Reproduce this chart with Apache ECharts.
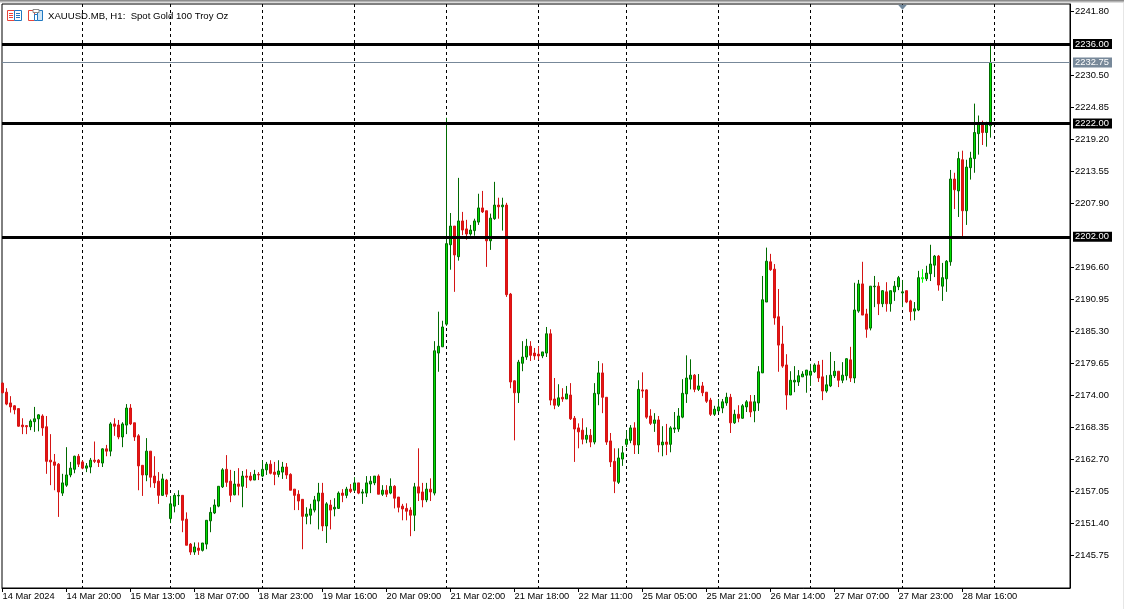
<!DOCTYPE html>
<html><head><meta charset="utf-8">
<style>html,body{margin:0;padding:0;background:#fff}#c{width:1124px;height:609px}</style>
<script src="https://cdn.jsdelivr.net/npm/echarts@6/dist/echarts.min.js"></script>
</head><body><div id="c"></div>
<script>
const opens=[2176.2,2174.6,2172.7,2172.2,2171.7,2168.8,2168.7,2168.5,2169.4,2169.9,2170.4,2168.5,2162.6,2162.3,2161.9,2156.8,2158.2,2160.0,2161.0,2163.3,2162.3,2161.2,2161.4,2162.6,2162.6,2162.1,2164.6,2164.2,2169.0,2168.8,2166.7,2168.8,2171.8,2169.2,2166.9,2161.7,2160.0,2164.2,2159.8,2158.9,2156.4,2159.1,2152.3,2154.5,2156.3,2156.4,2152.2,2147.8,2146.4,2147.1,2146.7,2147.8,2151.9,2153.3,2154.5,2157.9,
2161.0,2158.9,2156.5,2158.4,2158.0,2159.8,2159.8,2159.1,2160.1,2159.8,2160.9,2161.9,2160.5,2160.1,2160.5,2161.4,2160.1,2157.5,2156.6,2155.7,2152.7,2152.9,2153.8,2155.4,2156.8,2151.0,2154.7,2154.0,2154.1,2156.8,2156.4,2157.5,2157.3,2158.6,2156.8,2156.8,2158.4,2158.6,2159.8,2156.6,2157.3,2156.8,2158.0,2156.1,2154.5,2154.1,2153.8,2152.9,2157.9,2157.0,2155.6,2157.5,
2156.8,2181.5,2182.6,2186.6,2200.6,2203.9,2198.5,2204.8,2203.4,2202.5,2203.1,2204.6,2207.1,2206.6,2201.3,2205.2,2207.6,2207.3,2207.6,
2191.9,2176.6,2174.5,2179.7,2180.8,2182.7,2181.5,2181.3,2181.0,2181.5,2184.9,2173.4,2172.3,2173.7,2173.4,2174.1,2170.0,2168.3,2167.9,2166.3,2167.0,2165.8,2174.3,2178.0,2173.7,2166.0,2162.4,2158.7,2162.8,2165.4,2166.1,2168.3,2165.3,2175.0,2175.0,2170.4,2169.1,2169.7,2165.3,2165.8,2165.4,2168.1,2168.1,2170.2,2174.3,2176.9,2177.6,2175.1,
2175.7,2174.6,2173.2,2170.7,2171.3,2171.8,2172.7,2173.7,2169.2,2170.7,2170.0,2172.0,2172.9,2171.3,2172.7,2178.0,2190.5,2197.6,2196.3,2187.9,2183.1,2179.4,2174.1,2176.4,2176.4,2177.3,2177.6,2177.6,2178.2,2179.4,2177.3,2174.8,2175.7,2177.5,2178.3,2176.7,2177.5,2180.3,2177.1,2188.9,2193.7,
2188.4,2185.9,2193.2,2193.3,2190.2,2192.3,2190.2,2192.3,2193.2,2192.1,2192.5,2190.7,2188.9,2189.1,2194.6,2194.6,2195.5,2197.0,2198.6,2193.3,2194.6,2197.6,2212.2,2210.1,2215.6,2206.6,2214.2,2215.8,2220.2,2221.9,2220.4,2221.6];
const closes=[2174.5,2172.5,2172.0,2171.5,2168.6,2168.5,2168.5,2169.5,2169.9,2170.6,2168.3,2162.4,2162.3,2161.7,2157.0,2158.6,2160.0,2161.2,2163.3,2161.9,2161.2,2161.6,2162.6,2162.4,2162.2,2164.6,2164.2,2169.0,2168.6,2166.7,2169.0,2171.8,2169.0,2166.7,2161.6,2160.0,2164.2,2159.6,2158.6,2156.4,2159.3,2156.6,2154.9,2156.4,2156.4,2152.0,2147.6,2146.4,2147.3,2146.7,2148.0,2152.0,2153.4,2154.7,2158.0,2160.9,
2158.7,2156.4,2158.4,2158.0,2159.8,2159.6,2159.1,2160.1,2160.0,2161.0,2161.9,2160.3,2160.1,2160.7,2161.4,2160.0,2157.3,2156.4,2155.4,2152.7,2153.1,2154.0,2155.6,2156.8,2151.0,2154.9,2153.8,2154.3,2156.8,2156.4,2157.5,2157.1,2158.6,2156.8,2157.0,2158.6,2158.9,2159.8,2156.6,2157.3,2156.6,2158.0,2155.9,2154.3,2154.0,2153.6,2152.9,2157.9,2156.8,2155.6,2157.5,2157.0,
2181.9,2182.7,2186.1,2200.8,2203.9,2198.8,2204.8,2203.2,2202.5,2203.2,2204.8,2207.1,2206.4,2201.3,2205.3,2207.6,2207.3,2207.6,2191.8,
2176.4,2174.5,2179.9,2180.8,2182.7,2181.1,2181.0,2181.0,2181.7,2184.9,2173.2,2172.3,2173.6,2173.4,2174.3,2169.9,2168.1,2167.6,2166.3,2167.0,2165.8,2174.4,2178.0,2173.7,2165.8,2162.3,2158.9,2163.0,2163.9,2166.3,2168.3,2165.3,2175.1,2174.8,2170.2,2169.1,2169.7,2165.3,2165.8,2165.4,2168.3,2168.3,2170.4,2174.4,2177.1,2177.6,2175.1,2175.7,
2174.5,2173.0,2170.7,2171.6,2172.0,2172.9,2173.7,2169.2,2170.7,2170.0,2172.2,2172.9,2171.1,2172.9,2178.2,2190.9,2197.7,2196.2,2187.7,2182.9,2179.2,2174.1,2176.7,2176.7,2177.5,2177.8,2178.5,2178.3,2179.4,2177.1,2174.8,2175.9,2177.6,2178.3,2176.7,2177.6,2180.5,2177.1,2189.1,2193.7,2188.2,
2185.7,2193.3,2193.3,2190.2,2192.5,2190.2,2192.5,2193.3,2194.8,2192.3,2190.5,2188.8,2189.3,2194.8,2194.8,2195.6,2197.2,2198.6,2193.5,2194.8,2197.7,2212.2,2210.3,2215.8,2206.6,2214.3,2215.9,2220.4,2221.9,2220.4,2221.8,2232.75];
const lows=[2174.4,2172.3,2171.0,2170.7,2168.5,2167.2,2167.2,2167.9,2167.6,2167.7,2166.9,2160.2,2158.2,2157.3,2152.6,2156.3,2157.9,2159.6,2160.3,2161.4,2161.0,2160.5,2160.3,2162.1,2161.4,2161.4,2163.3,2163.3,2166.9,2166.3,2164.9,2167.2,2168.8,2166.0,2157.3,2156.3,2158.9,2157.8,2157.7,2154.9,2156.3,2156.1,2151.5,2153.4,2154.7,2149.9,2147.6,2145.9,2145.9,2145.9,2146.5,2146.9,2149.9,2153.1,2154.3,2157.7,
2157.9,2155.2,2156.4,2156.4,2154.3,2157.7,2158.9,2159.1,2159.1,2159.6,2160.0,2160.1,2158.2,2159.6,2159.3,2159.3,2157.3,2153.8,2153.8,2146.9,2151.3,2151.3,2153.4,2150.4,2150.1,2148.0,2150.4,2152.7,2154.0,2155.2,2155.9,2156.8,2157.0,2156.6,2154.9,2156.1,2156.8,2158.2,2156.6,2156.3,2156.1,2156.6,2154.1,2153.4,2152.0,2152.0,2149.2,2150.1,2155.4,2154.3,2155.2,2155.4,
2156.4,2178.2,2182.6,2186.3,2196.2,2192.3,2197.8,2202.3,2201.5,2202.2,2202.2,2204.1,2206.2,2196.7,2199.7,2205.0,2205.2,2203.1,2191.4,
2175.3,2166.1,2172.7,2178.3,2180.3,2180.1,2180.3,2180.3,2180.6,2180.8,2172.3,2171.6,2172.0,2172.9,2173.4,2169.7,2162.3,2164.7,2165.4,2165.6,2164.9,2165.4,2172.3,2170.9,2165.3,2161.4,2156.8,2158.4,2161.6,2164.9,2165.6,2163.7,2163.7,2173.6,2169.9,2168.8,2167.6,2164.0,2163.3,2163.5,2164.0,2167.4,2167.6,2170.0,2172.7,2175.1,2174.6,2174.8,
2173.9,2172.7,2170.4,2170.4,2171.1,2170.9,2172.2,2167.4,2169.0,2169.3,2169.9,2171.1,2170.2,2169.3,2171.3,2178.0,2190.5,2196.0,2186.5,2178.2,2178.9,2171.5,2174.1,2174.6,2175.7,2177.3,2174.5,2175.7,2178.0,2176.4,2173.2,2174.5,2175.5,2177.1,2175.5,2176.2,2176.7,2176.4,2176.2,2188.6,2188.2,
2184.2,2185.5,2189.6,2188.2,2189.6,2188.8,2188.8,2190.7,2192.6,2189.6,2190.3,2187.2,2187.3,2188.9,2193.9,2194.2,2194.2,2194.9,2192.5,2190.7,2192.3,2196.9,2206.9,2205.5,2202.0,2204.1,2212.1,2213.3,2216.5,2218.2,2217.9,2219.5];
const highs=[2176.3,2175.3,2173.9,2172.3,2171.7,2170.0,2168.8,2169.8,2172.0,2170.7,2170.7,2170.4,2167.2,2163.7,2162.1,2160.2,2164.9,2162.3,2163.4,2163.7,2162.6,2162.1,2163.0,2165.9,2162.8,2164.7,2165.3,2169.3,2170.0,2169.7,2169.3,2172.5,2172.5,2169.2,2167.2,2161.7,2166.5,2164.2,2163.3,2160.5,2160.2,2159.3,2156.3,2156.8,2157.3,2156.4,2153.4,2148.0,2148.1,2148.1,2148.0,2152.0,2154.3,2155.7,2158.0,2161.2,
2163.5,2160.9,2160.7,2161.2,2160.7,2161.0,2160.5,2160.9,2160.5,2162.6,2162.3,2162.6,2162.3,2162.6,2162.3,2162.1,2160.3,2157.5,2157.3,2155.7,2154.3,2154.9,2156.3,2158.6,2158.6,2155.2,2155.6,2155.9,2157.1,2157.5,2157.9,2158.4,2159.6,2158.6,2157.5,2159.8,2159.8,2159.8,2160.1,2158.2,2158.2,2159.4,2158.2,2156.1,2154.9,2155.0,2154.3,2158.6,2164.7,2158.6,2158.6,2159.4,
2183.6,2188.8,2187.2,2223.0,2206.2,2203.9,2212.4,2206.4,2205.0,2204.1,2205.2,2209.6,2210.1,2206.6,2206.1,2211.7,2208.9,2208.9,2208.0,
2192.1,2176.7,2180.3,2183.6,2184.0,2183.6,2182.4,2182.7,2181.7,2186.1,2185.7,2177.1,2176.0,2175.3,2175.7,2176.2,2170.4,2169.1,2170.0,2168.4,2168.1,2176.2,2180.1,2179.7,2173.7,2167.4,2164.7,2164.7,2165.1,2167.9,2168.8,2169.3,2176.7,2178.1,2175.1,2171.6,2170.9,2170.4,2168.6,2169.0,2168.6,2171.1,2171.8,2176.9,2181.1,2180.4,2177.8,2177.8,
2176.4,2174.6,2173.6,2172.2,2173.4,2173.4,2174.5,2174.3,2171.5,2172.3,2172.5,2173.2,2174.1,2174.1,2179.2,2195.1,2200.1,2199.0,2197.2,2192.8,2186.3,2181.3,2178.3,2179.2,2178.5,2178.3,2178.5,2179.6,2179.7,2180.1,2180.3,2177.6,2181.7,2180.1,2178.3,2179.9,2180.6,2182.6,2193.9,2194.4,2197.6,
2189.3,2193.3,2195.1,2194.0,2192.6,2194.0,2192.5,2194.2,2195.1,2194.4,2192.5,2190.9,2190.5,2196.0,2196.3,2196.9,2200.6,2198.8,2198.8,2197.4,2197.9,2213.8,2213.3,2217.0,2217.2,2215.6,2217.0,2225.5,2223.4,2222.5,2222.3,2236.2];

const xTickBars=[0,16,32,48,64,80,96,112,128,144,160,176,192,208,224,240];
const xTickLabels=['14 Mar 2024','14 Mar 20:00','15 Mar 13:00','18 Mar 07:00','18 Mar 23:00','19 Mar 16:00','20 Mar 09:00','21 Mar 02:00','21 Mar 18:00','22 Mar 11:00','25 Mar 05:00','25 Mar 21:00','26 Mar 14:00','27 Mar 07:00','27 Mar 23:00','28 Mar 16:00'];
const daySeparators=[20,42,65,88,111,134,156,179,202,225,248];
const yTicks=[2241.80,2230.50,2224.85,2219.20,2213.55,2207.90,2196.60,2190.95,2185.30,2179.65,2174.00,2168.35,2162.70,2157.05,2151.40,2145.75];
const levels=[2236.00,2222.00,2202.00];
const lastPrice=2232.75;
const highlightBar=230;
const triangleBar=225;
const titleText='XAUUSD.MB, H1:  Spot Gold 100 Troy Oz';

const FONT='"Liberation Sans",sans-serif';
const xMin=-0.125, xMax=266.875;
const data=opens.map((o,i)=>{
  const v=[i,o,closes[i],lows[i],highs[i]];
  return i===highlightBar?{value:v,itemStyle:{color:'#00ff00',borderColor:'#00ff00'}}:v;
});
const tag=(bg)=>({show:true,position:'end',distance:3,formatter:p=>Number(p.value).toFixed(2),color:'#fff',backgroundColor:bg,padding:[1,2,0,2],fontFamily:FONT,fontSize:9.4,lineHeight:9,width:35,align:'left'});

function rect(x,y,w,h,fill,stroke){return {type:'rect',silent:true,z:20,shape:{x,y,width:w,height:h},style:{fill:fill||'transparent',stroke:stroke||null,lineWidth:1}};}
const R='#e8443a',B='#1f78c1';
const icons=[
  rect(0,0,1124,1,'#8c8c8c'),rect(0,1,1124,1,'#b4b4b4'),rect(0,2,1124,1,'#dcdcdc'),
  rect(1123,3,1,606,'#e6e6e6'),
  rect(7.5,10.5,7,10,'#fff',R),rect(14.5,10.5,7,10,'#fff',B),
  rect(9,13,4,1,R),rect(9,15,4,1,R),rect(9,17,4,1,R),rect(16,13,4,1,B),rect(16,15,4,1,B),rect(16,17,4,1,B),
  rect(28.5,10.5,6,10,'#fff',R),rect(37.5,10.5,5,10,'#cfe6f7',B),rect(33,9.5,6,3,'#fff','#888'),rect(34.5,14.5,3,6,'#fff',B)
];

const chart=echarts.init(document.getElementById('c'),null,{renderer:'canvas'});
chart.setOption({
  animation:false,
  backgroundColor:'#fff',
  title:{show:true,text:titleText,left:48,top:11,padding:0,textStyle:{fontFamily:FONT,fontSize:9.6,fontWeight:'normal',color:'#000'}},
  grid:{left:2,top:4,right:54,bottom:21,outerBoundsMode:'none',containLabel:false,show:true,borderColor:'#000',borderWidth:1,backgroundColor:'#fff'},
  xAxis:[
    {type:'value',min:xMin,max:xMax,position:'bottom',
      axisLine:{show:true,onZero:false,lineStyle:{color:'#000'}},
      axisTick:{show:true,length:4,customValues:xTickBars,lineStyle:{color:'#000'}},
      axisLabel:{show:true,customValues:xTickBars,formatter:v=>xTickLabels[xTickBars.indexOf(Math.round(v))]||'',align:'left',margin:4,color:'#000',fontFamily:FONT,fontSize:9.3,hideOverlap:false},
      splitLine:{show:false}},
    {type:'value',min:xMin,max:xMax,position:'bottom',
      axisLine:{show:false},
      axisTick:{show:false,customValues:daySeparators},
      axisLabel:{show:false,customValues:daySeparators},
      splitLine:{show:true,lineStyle:{color:'#000',type:[3,3],width:1}}}
  ],
  yAxis:{type:'value',position:'right',min:2140.06,max:2243.07,
    axisLine:{show:true,onZero:false,lineStyle:{color:'#000'}},
    axisTick:{show:true,length:4,customValues:yTicks,lineStyle:{color:'#000'}},
    axisLabel:{show:true,customValues:yTicks,formatter:v=>Number(v).toFixed(2),margin:5,color:'#000',fontFamily:FONT,fontSize:9.4},
    splitLine:{show:false}
  },
  graphic:icons,
  series:[{
    type:'candlestick',xAxisIndex:0,data:data,barWidth:2,
    itemStyle:{color:'#00e000',color0:'#e81414',borderColor:'#006a00',borderColor0:'#d41414',borderWidth:1},
    markPoint:{silent:true,animation:false,data:[{coord:[triangleBar,2242.5],symbol:'triangle',symbolRotate:180,symbolSize:[9,5],itemStyle:{color:'#71889c'},label:{show:false}}]},
    markLine:{silent:true,symbol:'none',animation:false,
      data:[
        {yAxis:lastPrice,lineStyle:{color:'#778899',width:1,type:'solid'},label:tag('#778899')},
        ...levels.map(v=>({yAxis:v,lineStyle:{color:'#000',width:3,type:'solid'},label:tag('#000')}))
      ]}
  }]
});
</script></body></html>
